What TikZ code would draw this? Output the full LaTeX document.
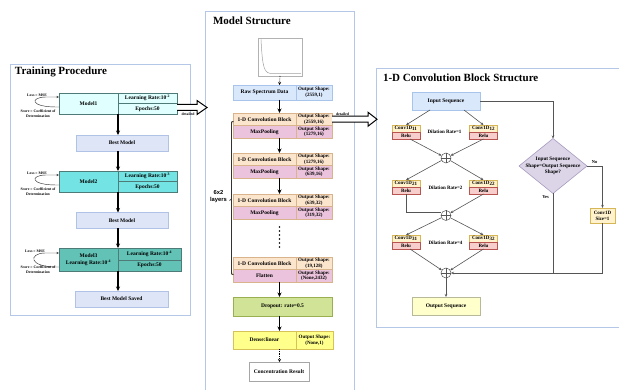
\documentclass[tikz,border=0pt]{standalone}
\usepackage{fontspec}
\setmainfont{Liberation Serif}
\newfontfamily\mysans{Liberation Sans}
\usetikzlibrary{arrows.meta,shapes.geometric}
\definecolor{panelc}{HTML}{B4C7E7}
\definecolor{mborder}{HTML}{4E7B78}
\definecolor{mfa}{HTML}{E0FFFF}
\definecolor{mfb}{HTML}{73E3E3}
\definecolor{mfc}{HTML}{62C2B6}
\definecolor{bfill}{HTML}{DDE5F6}
\definecolor{bborder}{HTML}{B0C2E6}
\definecolor{rawfill}{HTML}{DAE8FC}
\definecolor{rawborder}{HTML}{A9C4EB}
\definecolor{convfill}{HTML}{FCE5CD}
\definecolor{convborder}{HTML}{D9B38C}
\definecolor{poolfill}{HTML}{EBC3DD}
\definecolor{dropfill}{HTML}{D1E396}
\definecolor{dropborder}{HTML}{9AAF50}
\definecolor{densefill}{HTML}{FFFF8C}
\definecolor{denseborder}{HTML}{D6C256}
\definecolor{cyfill}{HTML}{FFF2CC}
\definecolor{cyborder}{HTML}{D6B656}
\definecolor{relufill}{HTML}{F8CECC}
\definecolor{reluborder}{HTML}{B85450}
\definecolor{diafill}{HTML}{DCD5E8}
\definecolor{diaborder}{HTML}{A89BBF}
\definecolor{outfill}{HTML}{FFFFCC}
\definecolor{outborder}{HTML}{B8B89A}
\definecolor{linegray}{HTML}{555555}
\newcommand\myfs{\fontsize{5.5}{6.2}\selectfont\bfseries}
\newcommand\mysm{\fontsize{5}{5.6}\selectfont\bfseries}
\newcommand\mytiny{\fontsize{3.8}{5.2}\selectfont\bfseries}
\newcommand\myttl{\fontsize{11}{13}\selectfont\bfseries}
\begin{document}
\begin{tikzpicture}[x=1pt,y=-1pt,
  every node/.style={inner sep=0pt, outer sep=0pt, align=center, font=\myfs},
  panel/.style={draw=panelc, line width=0.9pt},
  mcell/.style={draw=mborder, line width=0.6pt},
  bestbox/.style={draw=bborder, fill=bfill, line width=0.6pt, minimum width=92, minimum height=16},
  ba/.style={draw=black, line width=1.2pt, -{Stealth[length=4.5pt,width=4pt]}},
  da/.style={draw=black, line width=0.7pt, dash pattern=on 0.8pt off 1pt, -{Stealth[length=3pt,width=3pt]}},
  lp/.style={draw=black!80, line width=0.45pt, -{Stealth[length=2.5pt,width=2pt]}},
  lt/.style={font=\mytiny},
  harrow/.style={draw=black, line width=1pt, fill=white, line join=miter},
  ccell/.style={draw=convborder, line width=0.5pt, fill=convfill},
  pcell/.style={draw=convborder, line width=0.5pt, fill=poolfill},
  rl/.style={draw=linegray, line width=0.6pt, -{Stealth[length=3pt,width=2.5pt]}},
  rln/.style={draw=linegray, line width=0.6pt},
  cyc/.style={draw=cyborder, fill=cyfill, line width=0.5pt, minimum width=28, minimum height=7, font=\mysm},
  rel/.style={draw=reluborder, fill=relufill, line width=0.5pt, minimum width=28, minimum height=7, font=\mysm},
  sumc/.style={circle, draw=linegray, fill=white, line width=0.5pt, minimum size=10},
]
\useasboundingbox (0,0) rectangle (619,390);

% ---------------- panels
\draw[panel] (10,64) rectangle (190,315);
\draw[panel] (205,11) rectangle (354,396);
\draw[panel] (376,68) rectangle (632,327);

\node[anchor=base west, font=\myttl] (t1) at (15,75) {Training Procedure};
\node[anchor=base west, font=\myttl] (t2) at (213,25) {Model Structure};
\node[anchor=base west, font=\myttl] (t3) at (383,82) {1-D Convolution Block Structure};

% ---------------- training procedure
\node[mcell, fill=mfa, minimum width=59, minimum height=21] (m1a) at (88.5,103.5) {Model1};
\node[mcell, fill=mfa, minimum width=59, minimum height=10.5] (m1b) at (147.5,98.25) {Learning Rate:10\textsuperscript{-2}};
\node[mcell, fill=mfa, minimum width=59, minimum height=10.5] (m1c) at (147.5,108.75) {Epochs:50};
\node[bestbox] (b1) at (122,143) {Best Model};

\node[mcell, fill=mfb, minimum width=59, minimum height=21] (m2a) at (88.5,181.5) {Model2};
\node[mcell, fill=mfb, minimum width=59, minimum height=10.5] (m2b) at (147.5,176.25) {Learning Rate:10\textsuperscript{-3}};
\node[mcell, fill=mfb, minimum width=59, minimum height=10.5] (m2c) at (147.5,186.75) {Epochs:50};
\node[bestbox] (b2) at (122,220.5) {Best Model};

\node[mcell, fill=mfc, minimum width=59, minimum height=23] (m3a) at (88.5,259.5) {Model3\\[1pt]Learning Rate:10\textsuperscript{-4}};
\node[mcell, fill=mfc, minimum width=63, minimum height=12] (m3b) at (149.5,254) {Learning Rate:10\textsuperscript{-4}};
\node[mcell, fill=mfc, minimum width=63, minimum height=11] (m3c) at (149.5,265.5) {Epochs:50};
\node[bestbox, minimum width=93] (b3) at (121.5,299) {Best Model Saved};

\draw[ba] (m1a.south east) -- (m1a.south east |- b1.north);
\draw[ba] (b1.south -| m2a.north east) -- (m2a.north east);
\draw[ba] (m2a.south east) -- (m2a.south east |- b2.north);
\draw[ba] (b2.south -| m3a.north east) -- (m3a.north east);
\draw[ba] (m3a.south east) -- (m3a.south east |- b3.north);

% loss loops
\node[lt] (l1) at (37,95) {Loss = MSE};
\node[lt] (sc1) at (38,113.5) {Score = Coefficient of\\Determination};
\draw[lp] ([yshift=-14pt]m1a.north west) .. controls +(-30,0.5) and +(-16,0) .. ([xshift=-13pt,yshift=-4pt]m1a.north west) -- ([yshift=-4pt]m1a.north west);
\node[lt] (l2) at (37,173) {Loss = MSE};
\node[lt] (sc2) at (38,191.5) {Score = Coefficient of\\Determination};
\draw[lp] ([yshift=-14pt]m2a.north west) .. controls +(-30,0.5) and +(-16,0) .. ([xshift=-13pt,yshift=-4pt]m2a.north west) -- ([yshift=-4pt]m2a.north west);
\node[lt] (l3) at (35,251) {Loss = MSE};
\node[lt] (sc3) at (38,270) {Score = Coefficient of\\Determination};
\draw[lp] ([yshift=-19pt]m3a.north west) .. controls +(-32,0.5) and +(-16,0) .. ([xshift=-14pt,yshift=-5pt]m3a.north west) -- ([yshift=-5pt]m3a.north west);

% hollow arrow 1
\coordinate (h1) at ([yshift=-4pt]m1c.north east);
\draw[harrow] (h1) ++(0,-3) -- ++(20,0) -- ++(0,-4) -- ++(10,7) -- ++(-10,7) -- ++(0,-4) -- ++(-20,0);
\node[lt] (det1) at (188,113.8) {detailed};

% ---------------- model structure
\coordinate (ax) at (279.5,0);
\node[draw=gray!60, line width=0.5pt, minimum width=44, minimum height=38] (spec) at (280,57) {};
\draw[gray!75, line width=0.5pt] (261,39.5) .. controls (262.5,68) and (264,73.5) .. (272,73.5) -- (301,73.5);

\node[draw=rawborder, fill=rawfill, line width=0.5pt, minimum width=63, minimum height=15] (rawa) at (264.5,92.5) {Raw Spectrum Data};
\node[draw=rawborder, fill=rawfill, line width=0.5pt, minimum width=36, minimum height=15, font=\mysm] (rawb) at (314,92.5) {Output Shape:\\(2559,1)};
\draw[da] (spec.south) -- (rawa.north -| ax);

% block 1
\node[ccell, minimum width=63, minimum height=12.5] (k1a) at (264.5,119.25) {1-D Convolution Block};
\node[ccell, minimum width=36, minimum height=12.5, font=\mysm] (k1b) at (314,119.25) {Output Shape:\\(2559,16)};
\node[pcell, minimum width=63, minimum height=12.5] (k1c) at (264.5,131.75) {MaxPooling};
\node[pcell, minimum width=36, minimum height=12.5, font=\mysm] (k1d) at (314,131.75) {Output Shape:\\(1279,16)};
% block 2
\node[ccell, minimum width=63, minimum height=12.5] (k2a) at (264.5,159.25) {1-D Convolution Block};
\node[ccell, minimum width=36, minimum height=12.5, font=\mysm] (k2b) at (314,159.25) {Output Shape:\\(1279,16)};
\node[pcell, minimum width=63, minimum height=12.5] (k2c) at (264.5,171.75) {MaxPooling};
\node[pcell, minimum width=36, minimum height=12.5, font=\mysm] (k2d) at (314,171.75) {Output Shape:\\(639,16)};
% block 3
\node[ccell, minimum width=63, minimum height=12.5] (k3a) at (264.5,200.25) {1-D Convolution Block};
\node[ccell, minimum width=36, minimum height=12.5, font=\mysm] (k3b) at (314,200.25) {Output Shape:\\(639,32)};
\node[pcell, minimum width=63, minimum height=12.5] (k3c) at (264.5,212.75) {MaxPooling};
\node[pcell, minimum width=36, minimum height=12.5, font=\mysm] (k3d) at (314,212.75) {Output Shape:\\(319,32)};
% block 4
\node[ccell, minimum width=63, minimum height=12.5] (k4a) at (264.5,263.25) {1-D Convolution Block};
\node[ccell, minimum width=36, minimum height=12.5, font=\mysm] (k4b) at (314,263.25) {Output Shape:\\(19,128)};
\node[pcell, minimum width=63, minimum height=12.5] (k4c) at (264.5,275.75) {Flatten};
\node[pcell, minimum width=36, minimum height=12.5, font=\mysm] (k4d) at (314,275.75) {Output Shape:\\(None,2432)};

\node[draw=dropborder, fill=dropfill, line width=0.5pt, minimum width=99, minimum height=19] (drop) at (282.5,306.5) {Dropout: rate=0.5};
\node[draw=denseborder, fill=densefill, line width=0.5pt, minimum width=63, minimum height=18] (dena) at (264.5,340) {Dense:linear};
\node[draw=denseborder, fill=densefill, line width=0.5pt, minimum width=37, minimum height=18, font=\mysm] (denb) at (314.5,340) {Output Shape:\\(None,1)};
\node[draw=gray!70, fill=white, line width=0.5pt, minimum width=60, minimum height=19] (conc) at (279,371.5) {Concentration Result};

\draw[ba] (rawa.south -| ax) -- (k1a.north -| ax);
\draw[ba] (k1c.south -| ax) -- (k2a.north -| ax);
\draw[ba] (k2c.south -| ax) -- (k3a.north -| ax);
\draw[ba] (k4c.south -| ax) -- (drop.north -| ax);
\draw[ba] (drop.south -| ax) -- (dena.north -| ax);
\draw[da] (dena.south -| ax) -- (conc.north -| ax);

% vertical dots
\foreach \yy in {227,231,235,239,243,247} \fill (279.5,\yy) circle (0.9);

% 6x2 layers bracket
\draw[black!80, line width=0.9pt] (233.5,121.5) .. controls (231.5,121.5) .. (231.5,124) -- (231.5,272) .. controls (231.5,274.5) .. (233.5,274.5);
\draw[black!80, line width=0.7pt] (231.5,199) -- (229.5,200.5);
\node[font=\mysans\bfseries\fontsize{5.8}{7.6}\selectfont] (lay) at (218.5,196.5) {6x2\\layers};

% hollow arrow 2
\coordinate (h2) at (k1b.east);
\draw[harrow] (h2) ++(0,-3) -- ++(36,0) -- ++(0,-4) -- ++(9,7) -- ++(-9,7) -- ++(0,-4) -- ++(-36,0);
\node[lt] (det2) at (342.5,113.8) {detailed};

% ---------------- conv block structure
\node[draw=rawborder, fill=rawfill, line width=0.6pt, minimum width=68, minimum height=18] (in) at (446,101) {Input Sequence};
\node[cyc] (c11t) at (406,128.5) {Conv1D\textsubscript{11}};
\node[rel] (c11r) at (406,135.5) {Relu};
\node[cyc] (c12t) at (483.5,128.5) {Conv1D\textsubscript{12}};
\node[rel] (c12r) at (483.5,135.5) {Relu};
\node[font=\mysm] (d1) at (444.5,131.5) {Dilation Rate=1};
\node[sumc] (s1) at (446,158) {};

\node[cyc] (c21t) at (406,183.5) {Conv1D\textsubscript{21}};
\node[rel] (c21r) at (406,190.5) {Relu};
\node[cyc] (c22t) at (483.5,183.5) {Conv1D\textsubscript{22}};
\node[rel] (c22r) at (483.5,190.5) {Relu};
\node[font=\mysm] (d2) at (445.5,187.5) {Dilation Rate=2};
\node[sumc] (s2) at (446,215.5) {};

\node[cyc] (c31t) at (406,238.5) {Conv1D\textsubscript{31}};
\node[rel] (c31r) at (406,245.5) {Relu};
\node[cyc] (c32t) at (483.5,238.5) {Conv1D\textsubscript{32}};
\node[rel] (c32r) at (483.5,245.5) {Relu};
\node[font=\mysm] (d3) at (445.5,242.5) {Dilation Rate=4};
\node[sumc] (s3) at (446,273) {};

\node[draw=outborder, fill=outfill, line width=0.6pt, minimum width=68, minimum height=18] (out) at (446,306) {Output Sequence};

\foreach \s in {s1,s2,s3} {
  \draw[linegray, line width=0.45pt] (\s.north) -- (\s.south) (\s.east) -- (\s.west);
}

\draw[rl] ([xshift=-16pt]in.south) -- (c11t.north);
\draw[rl] ([xshift=18pt]in.south) -- (c12t.north);
\draw[rl] ([xshift=4pt]c11r.south) -- (s1);
\draw[rl] (c12r.south) -- (s1);
\draw[rl] (s1) -- (c21t.north);
\draw[rl] (s1) -- (c22t.north);
\draw[rln] (c21r.south) |- ([yshift=3pt]s2.west);
\draw[rl] (c22r.south) -- (s2);
\draw[rl] (s2) -- (c31t.north);
\draw[rl] (s2) -- (c32t.north);
\draw[rl] ([xshift=4pt]c31r.south) -- (s3);
\draw[rl] (c32r.south) -- (s3);
\draw[rl] (s3) -- (out.north);

\node[diamond, draw=diaborder, fill=diafill, line width=0.6pt, minimum width=68, minimum height=55] (dia) at (553,166) {};
\node[font=\fontsize{5.2}{6.6}\selectfont\bfseries] (diat) at (dia.center) {Input Sequence\\Shape=Output Sequence\\Shape?};
\node[draw=cyborder, fill=cyfill, line width=0.5pt, minimum width=25, minimum height=15, font=\fontsize{5}{6}\selectfont\bfseries] (cs) at (602.5,215.5) {Conv1D\\Size=1};

\draw[rl] (in.east) -| (dia.north);
\draw[rl] (dia.east) -| (cs.north);
\coordinate (jn) at (dia.south |- s3);
\draw[rln] (dia.south) -- (jn);
\draw[rl] (cs.south) |- (s3.east);
\node[font=\fontsize{4.5}{5}\selectfont\bfseries] (no) at (594.5,162.5) {No};
\node[font=\fontsize{4.5}{5}\selectfont\bfseries] (yes) at (545.5,197.5) {Yes};
\end{tikzpicture}
\end{document}
